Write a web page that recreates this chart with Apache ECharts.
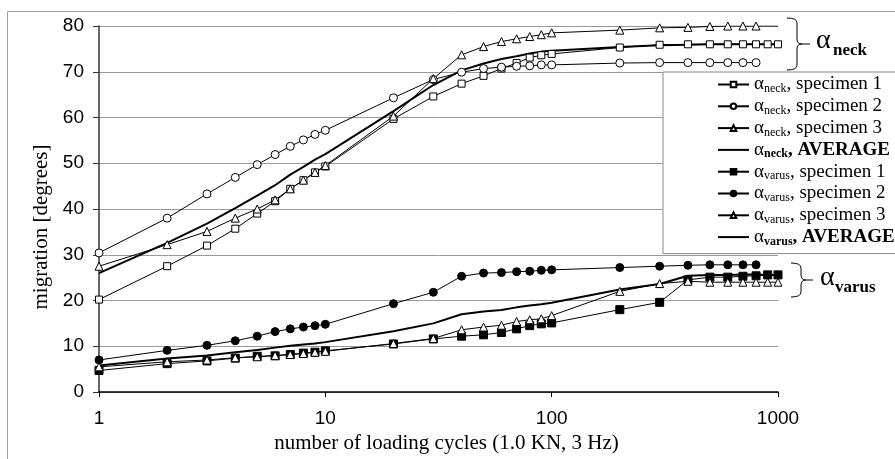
<!DOCTYPE html>
<html>
<head>
<meta charset="utf-8">
<script src="https://cdn.jsdelivr.net/npm/echarts@6/dist/echarts.min.js"></script>
<style>
  html, body { margin: 0; padding: 0; background: #fff; }
  #chart { width: 895px; height: 459px; }
</style>
</head>
<body>
<div id="chart"></div>
<script>
// loading cycles (x) shared by every series
const cycles = [1, 2, 3, 4, 5, 6, 7, 8, 9, 10, 20, 30, 40, 50, 60, 70, 80, 90, 100, 200, 300, 400, 500, 600, 700, 800, 900, 1000];

const neckSpecimen1 = [20.2, 27.5, 32.0, 35.7, 39.0, 41.7, 44.4, 46.3, 48.0, 49.3, 59.7, 64.6, 67.4, 69.1, 70.7, 71.9, 73.1, 73.6, 73.9, 75.3, 75.9, 76.0, 76.0, 76.0, 76.0, 76.0, 76.0, 76.0];
const neckSpecimen2 = [30.4, 38.0, 43.3, 46.9, 49.7, 51.9, 53.7, 55.1, 56.3, 57.2, 64.3, 68.3, 69.9, 70.7, 71.0, 71.2, 71.3, 71.5, 71.5, 71.9, 72.0, 72.0, 72.0, 72.0, 72.0, 72.0, null, null];
const neckSpecimen3 = [27.5, 32.2, 35.1, 38.0, 40.0, 42.0, 44.4, 46.3, 48.0, 49.5, 60.3, 68.5, 73.7, 75.5, 76.6, 77.2, 77.7, 78.1, 78.5, 79.1, 79.6, 79.7, 79.9, 80.0, 80.0, 80.0, 80.0, 80.0];
const neckAverage = [26.0, 32.6, 36.8, 40.2, 42.9, 45.2, 47.5, 49.2, 50.8, 52.0, 61.4, 67.1, 70.3, 71.8, 72.8, 73.4, 74.0, 74.4, 74.6, 75.4, 75.8, 75.9, 76.0, 76.0, 76.0, 76.0, 76.0, 76.0];

const varusSpecimen1 = [4.7, 6.2, 6.8, 7.4, 7.8, 7.9, 8.2, 8.5, 8.7, 9.0, 10.5, 11.6, 12.2, 12.5, 13.0, 13.8, 14.5, 14.9, 15.1, 18.0, 19.6, 24.5, 25.1, 25.1, 25.3, 25.4, 25.6, 25.6];
const varusSpecimen2 = [7.0, 9.1, 10.2, 11.2, 12.2, 13.2, 13.8, 14.2, 14.5, 14.8, 19.3, 21.8, 25.3, 26.0, 26.1, 26.3, 26.4, 26.6, 26.7, 27.2, 27.5, 27.7, 27.8, 27.8, 27.8, 27.8, null, null];
const varusSpecimen3 = [5.5, 6.6, 7.0, 7.5, 7.7, 8.0, 8.2, 8.4, 8.7, 8.9, 10.6, 11.7, 13.6, 14.2, 14.6, 15.4, 15.8, 16.0, 16.7, 22.0, 23.7, 24.2, 24.0, 24.0, 24.0, 24.0, 24.0, 24.0];
const varusAverage = [5.8, 7.3, 8.0, 8.7, 9.2, 9.7, 10.1, 10.4, 10.6, 10.9, 13.3, 15.0, 17.0, 17.6, 17.9, 18.5, 18.9, 19.2, 19.5, 22.4, 23.6, 25.4, 25.6, 25.6, 25.7, 25.7, 25.6, 25.6];

const xTickLabels = ['1', '10', '100', '1000'];

const serif = '"Liberation Serif", "Times New Roman", serif';
const sans = '"Liberation Sans", Arial, sans-serif';

function pairs(values) {
  return cycles.map((c, i) => [c, values[i]]).filter(p => p[1] != null);
}

function specimen(name, values, symbol, filled, size) {
  return {
    name: name,
    type: 'line',
    data: pairs(values),
    symbol: symbol,
    symbolSize: size,
    showSymbol: true,
    lineStyle: { color: '#000', width: 1 },
    itemStyle: { color: filled ? '#000' : '#fff', borderColor: '#000', borderWidth: 1 },
    emphasis: { disabled: true },
    animation: false
  };
}

function average(name, values) {
  return {
    name: name,
    type: 'line',
    data: pairs(values),
    symbol: 'none',
    lineStyle: { color: '#000', width: 2 },
    itemStyle: { color: '#000' },
    emphasis: { disabled: true },
    animation: false,
    z: 3
  };
}

// curly brace drawn with graphic primitives
function brace(x0, xv, y0, y1, xm, xEnd) {
  const ym = (y0 + y1) / 2, r = 5;
  const st = { stroke: '#000', lineWidth: 1, fill: 'none' };
  return [
    { type: 'bezierCurve', shape: { x1: x0, y1: y0, cpx1: xv, cpy1: y0, x2: xv, y2: y0 + r }, style: st },
    { type: 'line', shape: { x1: xv, y1: y0 + r, x2: xv, y2: ym - r }, style: st },
    { type: 'bezierCurve', shape: { x1: xv, y1: ym - r, cpx1: xv, cpy1: ym, x2: xm, y2: ym }, style: st },
    { type: 'bezierCurve', shape: { x1: xm, y1: ym, cpx1: xv, cpy1: ym, x2: xv, y2: ym + r }, style: st },
    { type: 'line', shape: { x1: xv, y1: ym + r, x2: xv, y2: y1 - r }, style: st },
    { type: 'bezierCurve', shape: { x1: xv, y1: y1 - r, cpx1: xv, cpy1: y1, x2: x0, y2: y1 }, style: st },
    { type: 'line', shape: { x1: xm, y1: ym, x2: xEnd, y2: ym }, style: st }
  ];
}

const chart = echarts.init(document.getElementById('chart'));

const n3 = specimen('αneck, specimen 3', neckSpecimen3, 'triangle', false, 8);
// the last two points of this series are drawn without markers
n3.symbolSize = (v, p) => (p.dataIndex > 25 ? 0 : 8);

const series = [
  specimen('αneck, specimen 1', neckSpecimen1, 'rect', false, 7),
  specimen('αneck, specimen 2', neckSpecimen2, 'circle', false, 8),
  n3,
  average('αneck, AVERAGE', neckAverage),
  specimen('αvarus, specimen 1', varusSpecimen1, 'rect', true, 8),
  specimen('αvarus, specimen 2', varusSpecimen2, 'circle', true, 8),
  specimen('αvarus, specimen 3', varusSpecimen3, 'triangle', false, 8),
  average('αvarus, AVERAGE', varusAverage)
];

// averages show a plain thick line in the legend
const legendData = series.map(s => s.symbol === 'none'
  ? { name: s.name, icon: 'path://M0,0H31V2H0Z' }
  : { name: s.name });

chart.setOption({
  animation: false,
  grid: { left: 99, right: 117, top: 26, bottom: 67 },
  xAxis: {
    type: 'log',
    logBase: 10,
    min: 1,
    max: 1000,
    name: 'number of loading cycles (1.0 KN, 3 Hz)',
    nameLocation: 'middle',
    nameGap: 36,
    nameTextStyle: { fontFamily: serif, fontSize: 21, color: '#000', padding: [0, 0, 0, 16] },
    axisLine: { lineStyle: { color: '#000', width: 1.5 } },
    axisTick: { show: true, length: 5, lineStyle: { color: '#000' } },
    minorTick: { show: false },
    splitLine: { show: false },
    axisLabel: {
      fontFamily: sans, fontSize: 19, color: '#000', margin: 17,
      formatter: v => xTickLabels[Math.round(Math.log10(v))]
    }
  },
  yAxis: {
    type: 'value',
    min: 0,
    max: 80,
    interval: 10,
    name: 'migration [degrees]',
    nameLocation: 'middle',
    nameGap: 46,
    nameTextStyle: { fontFamily: serif, fontSize: 21, color: '#000', padding: [0, 36, 0, 0] },
    axisLine: { show: true, lineStyle: { color: '#333', width: 1.5 } },
    axisTick: { show: true, length: 6, lineStyle: { color: '#333' } },
    splitLine: { lineStyle: { color: '#999', width: 1 } },
    axisLabel: { fontFamily: sans, fontSize: 19, color: '#000', margin: 15 }
  },
  legend: {
    data: legendData,
    orient: 'vertical',
    left: 663,
    top: 72,
    padding: [2, 12, 6, 54],
    itemWidth: 31,
    itemHeight: 7,
    itemGap: 0.8,
    selectedMode: false,
    backgroundColor: '#fff',
    borderColor: '#888',
    borderWidth: 1,
    borderRadius: 0,
    formatter: name => {
      const m = name.match(/^α(neck|varus)(, .*)$/);
      const bold = m[2].indexOf('AVERAGE') >= 0;
      return '{a|α}{' + (bold ? 'sb' : 's') + '|' + m[1] + '}{' + (bold ? 'tb' : 't') + '|' + m[2] + '}';
    },
    textStyle: {
      fontFamily: serif, fontSize: 19, color: '#000',
      rich: {
        a: { fontFamily: serif, fontSize: 19, lineHeight: 23.4, color: '#000' },
        s: { fontFamily: serif, fontSize: 12, lineHeight: 23.4, padding: [9, 0, 0, 0], color: '#000' },
        sb: { fontFamily: serif, fontSize: 12, fontWeight: 'bold', lineHeight: 23.4, padding: [9, 0, 0, 0], color: '#000' },
        t: { fontFamily: serif, fontSize: 19, lineHeight: 23.4, color: '#000' },
        tb: { fontFamily: serif, fontSize: 19, fontWeight: 'bold', lineHeight: 23.4, color: '#000' }
      }
    }
  },
  graphic: [
    { type: 'rect', z: -10, silent: true, shape: { x: 7.5, y: 11.5, width: 900, height: 460 }, style: { fill: 'none', stroke: '#a0a0a0', lineWidth: 1 } },
    ...brace(787, 797, 18, 70, 802, 810),
    ...brace(791, 801, 263, 297, 806, 813),
    { type: 'text', x: 816, y: 41, style: { text: 'α', font: '28px ' + serif, fill: '#000', verticalAlign: 'middle' } },
    { type: 'text', x: 833, y: 51, style: { text: 'neck', font: 'bold 17px ' + serif, fill: '#000', verticalAlign: 'middle' } },
    { type: 'text', x: 820, y: 278, style: { text: 'α', font: '28px ' + serif, fill: '#000', verticalAlign: 'middle' } },
    { type: 'text', x: 835, y: 288, style: { text: 'varus', font: 'bold 17px ' + serif, fill: '#000', verticalAlign: 'middle' } }
  ],
  series: series
});
</script>
</body>
</html>
